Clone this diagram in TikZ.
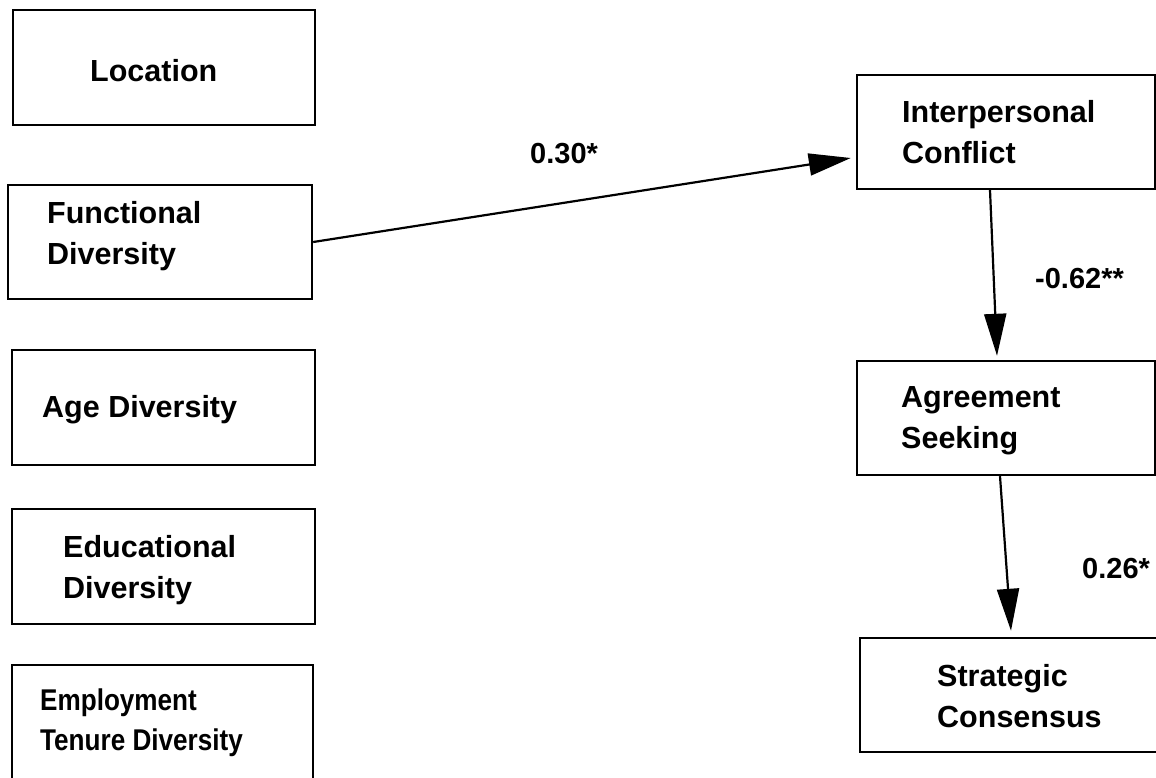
\documentclass[tikz,border=0pt]{standalone}
\usepackage{fontspec}
\setmainfont{Liberation Sans}
\newfontfamily\narrowfont[FakeStretch=0.87]{Liberation Sans}
\usetikzlibrary{arrows.meta,calc}
\tikzset{
  box/.style={draw, line width=2.4pt, rectangle, inner sep=0pt, minimum width=#1},
  box/.default=302pt,
  txt/.style={anchor=base west, inner sep=0pt, align=left, font=\fontsize{30.5}{41}\selectfont\bfseries},
  ntxt/.style={anchor=base west, inner sep=0pt, align=left, font=\narrowfont\fontsize{30}{40}\selectfont\bfseries},
  lbl/.style={anchor=base west, inner sep=0pt, font=\fontsize{29}{35}\selectfont\bfseries},
  arr/.style={line width=2.2pt, -{Triangle[length=42pt, width=22pt]}}
}
\begin{document}
\begin{tikzpicture}[x=1pt, y=-1pt]
\useasboundingbox (0,0) rectangle (1156,777);
\fill[white] (0,0) rectangle (1156,777);
\clip (0,0) rectangle (1156,777);
% left boxes
\node[box=302pt, minimum height=115pt] (loc) at (164,67.5) {};
\node[box=304pt, minimum height=114pt] (func) at (160,242) {};
\node[box=303pt, minimum height=115pt] (age) at (163.5,407.5) {};
\node[box=303pt, minimum height=115pt] (edu) at (163.5,566.5) {};
\node[box=301pt, minimum height=150pt] (emp) at (162.5,740) {};
% right boxes
\node[box=298pt, minimum height=114pt] (ip) at (1006,132) {};
\node[box=298pt, minimum height=114pt] (as) at (1006,418) {};
\node[box=315pt, minimum height=114pt] (sc) at (1017.5,695) {};
% texts (anchor at baseline of last line)
\node[txt] (tloc) at (90,81) {Location};
\node[txt] (tfunc) at (47,264) {Functional\\Diversity};
\node[txt] (tage) at (42,417) {Age Diversity};
\node[txt] (tedu) at (63,598) {Educational\\Diversity};
\node[ntxt] (temp) at (40,750) {Employment\\Tenure Diversity};
\node[txt] (tip) at (902,163) {Interpersonal\\Conflict};
\node[txt] (tas) at (901,448) {Agreement\\Seeking};
\node[txt] (tsc) at (937,727) {Strategic\\Consensus};
% arrows
\draw[arr] (func.east) -- ($(ip.west)+(-5,26)$);
\draw[arr] ($(ip.south)+(-16,0)$) -- ($(as.north)+(-9,-4)$);
\draw[arr] ($(as.south)+(-6,0)$) -- ($(sc.north)+(-6.5,-6)$);
% coefficients
\node[lbl] (l1) at (530,163) {0.30*};
\node[lbl] (l2) at (1035,288) {-0.62**};
\node[lbl] (l3) at (1082,578) {0.26*};
\end{tikzpicture}
\end{document}
